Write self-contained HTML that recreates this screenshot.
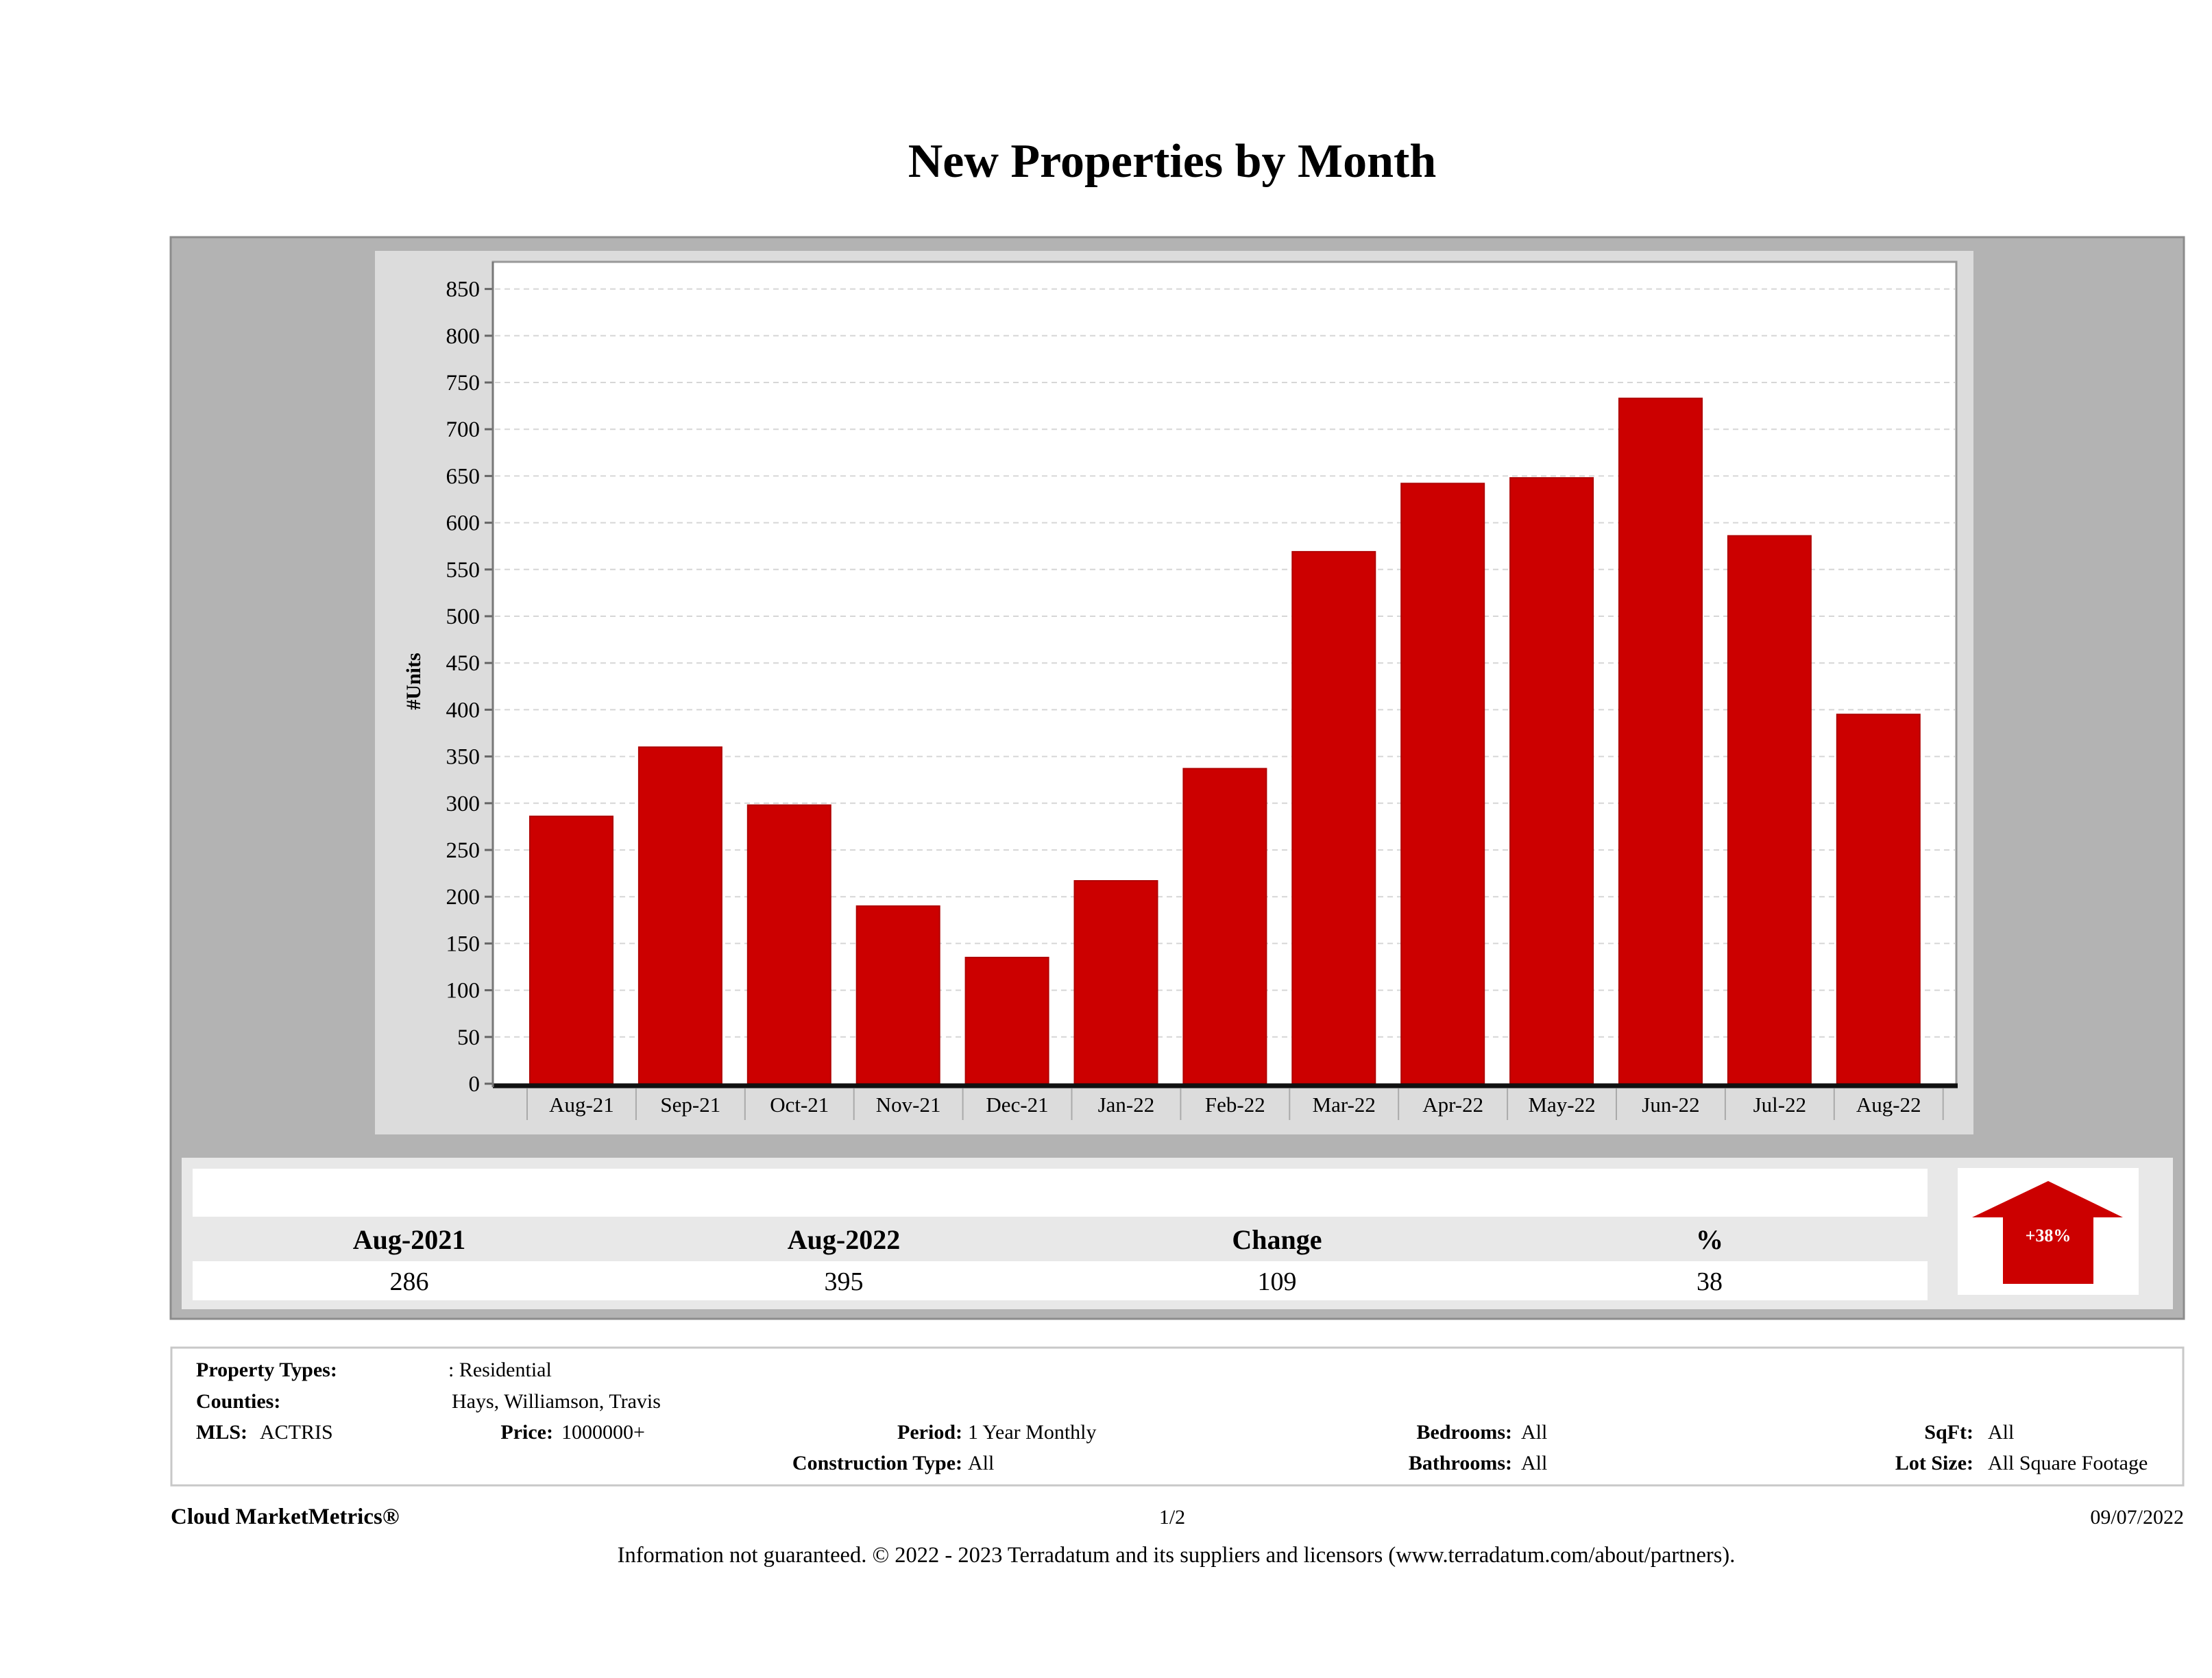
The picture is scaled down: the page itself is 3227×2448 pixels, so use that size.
<!DOCTYPE html>
<html><head><meta charset="utf-8"><style>
html,body{margin:0;padding:0;background:#fff;}
svg{display:block;}
text{font-family:"Liberation Serif",serif;fill:#000;}
</style></head><body>
<svg id="page" width="3227" height="2448" viewBox="0 0 3227 2448" xmlns="http://www.w3.org/2000/svg">
<text x="1710" y="258" font-size="70" font-weight="bold" text-anchor="middle">New Properties by Month</text>
<rect x="249" y="346" width="2937" height="1578" fill="#b3b3b3" stroke="#8c8c8c" stroke-width="3"/>
<rect x="547" y="366" width="2332" height="1289" fill="#dcdcdc"/>
<rect x="719" y="382" width="2135" height="1200" fill="#fff" stroke="#999" stroke-width="3"/>
<g id="grid"></g>
<g id="yticks"></g>
<g id="bars"></g>
<g id="xticks"></g>
<line x1="719" y1="1584" x2="2856" y2="1584" stroke="#111" stroke-width="7"/>
<line x1="719" y1="382" x2="719" y2="1586" stroke="#777" stroke-width="3"/>
<text transform="translate(613,994) rotate(-90)" font-size="30" font-weight="bold" text-anchor="middle">#Units</text>

<rect x="265" y="1689" width="2905" height="221" fill="#e8e8e8"/>
<rect x="281" y="1705" width="2531" height="70" fill="#fff"/>
<rect x="281" y="1840" width="2531" height="57" fill="#fff"/>
<g font-size="40" font-weight="bold">
<text x="597" y="1822" text-anchor="middle" font-weight="bold">Aug-2021</text>
<text x="1231" y="1822" text-anchor="middle" font-weight="bold">Aug-2022</text>
<text x="1863" y="1822" text-anchor="middle" font-weight="bold">Change</text>
<text x="2494" y="1822" text-anchor="middle" font-weight="bold">%</text>
</g>
<g font-size="38">
<text x="597" y="1882" text-anchor="middle">286</text>
<text x="1231" y="1882" text-anchor="middle">395</text>
<text x="1863" y="1882" text-anchor="middle">109</text>
<text x="2494" y="1882" text-anchor="middle">38</text>
</g>
<rect x="2856" y="1704" width="264" height="185" fill="#fff"/>
<polygon points="2988,1723 3097,1776 3054,1776 3054,1873 2922,1873 2922,1776 2877,1776" fill="#cc0000"/>
<text x="2988" y="1811" font-size="26" font-weight="bold" text-anchor="middle" style="fill:#fff">+38%</text>

<rect x="250" y="1966" width="2935" height="201" fill="#fff" stroke="#c8c8c8" stroke-width="3"/>
<g font-size="30">
<text x="286" y="2008" font-weight="bold">Property Types:</text>
<text x="654" y="2008">: Residential</text>
<text x="286" y="2054" font-weight="bold">Counties:</text>
<text x="659" y="2054">Hays, Williamson, Travis</text>
<text x="286" y="2099" font-weight="bold">MLS:</text>
<text x="379" y="2099">ACTRIS</text>
<text x="807" y="2099" font-weight="bold" text-anchor="end">Price:</text>
<text x="819" y="2099">1000000+</text>
<text x="1404" y="2099" font-weight="bold" text-anchor="end">Period:</text>
<text x="1412" y="2099">1 Year Monthly</text>
<text x="1404" y="2144" font-weight="bold" text-anchor="end">Construction Type:</text>
<text x="1412" y="2144">All</text>
<text x="2206" y="2099" font-weight="bold" text-anchor="end">Bedrooms:</text>
<text x="2219" y="2099">All</text>
<text x="2206" y="2144" font-weight="bold" text-anchor="end">Bathrooms:</text>
<text x="2219" y="2144">All</text>
<text x="2879" y="2099" font-weight="bold" text-anchor="end">SqFt:</text>
<text x="2900" y="2099">All</text>
<text x="2879" y="2144" font-weight="bold" text-anchor="end">Lot Size:</text>
<text x="2900" y="2144">All Square Footage</text>
</g>
<text x="249" y="2223" font-size="33" font-weight="bold">Cloud MarketMetrics®</text>
<text x="1710" y="2223" font-size="30" text-anchor="middle">1/2</text>
<text x="3186" y="2223" font-size="30" text-anchor="end">09/07/2022</text>
<text x="1716" y="2279" font-size="32.5" text-anchor="middle">Information not guaranteed. © 2022 - 2023 Terradatum and its suppliers and licensors (www.terradatum.com/about/partners).</text>
</svg>
<script>
const categories = ["Aug-21","Sep-21","Oct-21","Nov-21","Dec-21","Jan-22","Feb-22","Mar-22","Apr-22","May-22","Jun-22","Jul-22","Aug-22"];
const values = [286,360,298,190,135,217,337,569,642,648,733,586,395];
const yTicks = [0,50,100,150,200,250,300,350,400,450,500,550,600,650,700,750,800,850];
const NS = "http://www.w3.org/2000/svg";
const y0 = 1581, pxPerUnit = 68.2/50;
const bandStart = 769, band = 158.9, barOff = 4, barW = 121;
function yScale(v){ return y0 - v*pxPerUnit; }
function xBand(i){ return bandStart + i*band; }
function mk(tag, attrs, parent){ const e=document.createElementNS(NS,tag); for(const k in attrs) e.setAttribute(k,attrs[k]); parent.appendChild(e); return e; }
const grid=document.getElementById('grid'), yt=document.getElementById('yticks'), bars=document.getElementById('bars'), xt=document.getElementById('xticks');
yTicks.forEach(t=>{
  const y=yScale(t);
  if(t>0){
    const g=mk('line',{x1:722,x2:2852,y1:y,y2:y,stroke:'#d6d6d6','stroke-width':2,'stroke-dasharray':'8,6'},grid);
    
    
  }
  const tk=mk('line',{x1:707,x2:719,y1:y,y2:y,stroke:'#666','stroke-width':3},yt);
  
  
  const tx=mk('text',{x:700,y:y+11,'font-size':33,'text-anchor':'end'},yt);
  tx.textContent=t;
  
  
});
values.forEach((v,i)=>{
  const x=xBand(i)+barOff, y=yScale(v);
  const r=mk('rect',{x:x,y:y,width:barW,height:y0-y,fill:'#cc0000',stroke:'#b00000','stroke-width':2},bars);
  
  
});
for(let i=0;i<=categories.length;i++){
  const x=xBand(i);
  const s=mk('line',{x1:x,x2:x,y1:1588,y2:1634,stroke:'#aaa','stroke-width':2},xt);
  
  
}
categories.forEach((c,i)=>{
  const t=mk('text',{x:xBand(i)+band/2,y:1622,'font-size':31,'text-anchor':'middle'},xt);
  t.textContent=c;
  
  
});
</script>
</body></html>
